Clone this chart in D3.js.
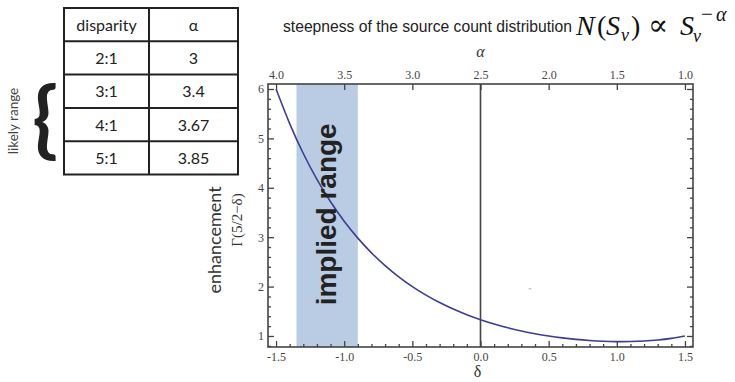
<!DOCTYPE html>
<html>
<head>
<meta charset="utf-8">
<script src="https://cdn.jsdelivr.net/npm/d3@7"></script>
<style>
  html, body { margin: 0; padding: 0; background: #fff; }
  svg { display: block; }
</style>
</head>
<body>
<svg id="chart" width="735" height="382"></svg>
<script>
// Enhancement factor Γ(5/2−δ) sampled across δ
const deltaValues = [-1.5,-1.4,-1.3,-1.2,-1.1,-1.0,-0.9,-0.8,-0.7,-0.6,-0.5,-0.4,-0.3,-0.2,-0.1,0.0,
  0.1,0.2,0.3,0.4,0.5,0.6,0.7,0.8,0.9,1.0,1.1,1.2,1.3,1.4,1.5];
const enhancementValues = [6.0,5.2993,4.6942,4.1707,3.7170,3.3234,2.9812,2.6834,2.4240,2.1976,2.0,
  1.8274,1.6765,1.5447,1.4296,1.3293,1.2422,1.1667,1.1018,1.0465,1.0,0.9618,0.9314,0.9086,0.8935,
  0.8862,0.8873,0.8975,0.9182,0.9514,1.0];

// Disparity table
const disparities = ["2:1", "3:1", "4:1", "5:1"];
const alphaValues = ["3", "3.4", "3.67", "3.85"];

// Implied α range (from the likely disparities 3:1 … 5:1)
const impliedAlpha = [3.4, 3.85];

// Axis ticks
const deltaMajorTicks = [-1.5, -1.0, -0.5, 0.0, 0.5, 1.0, 1.5];
const deltaTickLabels = ["-1.5", "-1.0", "-0.5", "0.0", "0.5", "1.0", "1.5"];
const alphaTicks = [4.0, 3.5, 3.0, 2.5, 2.0, 1.5, 1.0];
const alphaTickLabels = ["4.0", "3.5", "3.0", "2.5", "2.0", "1.5", "1.0"];
const yMajorTicks = [1, 2, 3, 4, 5, 6];

const svg = d3.select("#chart");

// ---- plot geometry ----
const frame = { left: 268, right: 693, top: 84, bottom: 347 };
const x = d3.scaleLinear().domain([-1.559, 1.559]).range([frame.left, frame.right]);
// α = 5/2 − δ, so the top axis is the same scale, reversed
const xa = d3.scaleLinear().domain([2.5 + 1.559, 2.5 - 1.559]).range([frame.left, frame.right]);
const y = d3.scaleLinear().domain([0.777, 6.101]).range([frame.bottom, frame.top]);

const serif = "'Liberation Serif', 'DejaVu Serif', serif";
const sans = "'Liberation Sans', Arial, sans-serif";
const humanist = "Lato, 'Open Sans', sans-serif";
const axisColor = "#444";

// implied range band
svg.append("rect")
  .attr("x", xa(impliedAlpha[1]))
  .attr("y", frame.top)
  .attr("width", xa(impliedAlpha[0]) - xa(impliedAlpha[1]))
  .attr("height", frame.bottom - frame.top)
  .attr("fill", "#b9cce3");

// vertical line at δ = 0
svg.append("line")
  .attr("x1", x(0)).attr("x2", x(0))
  .attr("y1", frame.top).attr("y2", frame.bottom)
  .attr("stroke", "#444").attr("stroke-width", 1.6);

// curve
const line = d3.line()
  .x((d, i) => x(deltaValues[i]))
  .y(d => y(d))
  .curve(d3.curveNatural);
svg.append("path")
  .attr("d", line(enhancementValues))
  .attr("fill", "none")
  .attr("stroke", "#3d3d95")
  .attr("stroke-width", 1.6);

// "implied range" label inside the band
const bandMid = (xa(impliedAlpha[0]) + xa(impliedAlpha[1])) / 2;
svg.append("text")
  .attr("transform", `translate(${bandMid + 9},${y(1.62)}) rotate(-90)`)
  .attr("font-family", sans)
  .attr("font-weight", "bold")
  .attr("font-size", 28)
  .attr("fill", "#222")
  .text("implied range");

// ---- axes ----
const bottomAxis = d3.axisBottom(x)
  .tickValues(deltaMajorTicks)
  .tickFormat((d, i) => deltaTickLabels[i])
  .tickSizeInner(-6).tickSizeOuter(0).tickPadding(5);
const gB = svg.append("g").attr("transform", `translate(0,${frame.bottom})`).call(bottomAxis);

const bottomMinor = d3.axisBottom(x)
  .tickValues(d3.range(-15, 16).filter(v => v % 5 !== 0).map(v => v / 10))
  .tickFormat("").tickSizeInner(-3).tickSizeOuter(0);
const gBm = svg.append("g").attr("transform", `translate(0,${frame.bottom})`).call(bottomMinor);

const topAxis = d3.axisTop(xa)
  .tickValues(alphaTicks)
  .tickFormat((d, i) => alphaTickLabels[i])
  .tickSizeInner(-6).tickSizeOuter(0).tickPadding(5);
const gT = svg.append("g").attr("transform", `translate(0,${frame.top})`).call(topAxis);

const leftAxis = d3.axisLeft(y)
  .tickValues(yMajorTicks)
  .tickFormat(d3.format("d"))
  .tickSizeInner(-6).tickSizeOuter(0).tickPadding(4);
const gL = svg.append("g").attr("transform", `translate(${frame.left},0)`).call(leftAxis);

const yMinor = d3.range(8, 61, 2).filter(v => v % 10 !== 0).map(v => v / 10);
const gLm = svg.append("g").attr("transform", `translate(${frame.left},0)`)
  .call(d3.axisLeft(y).tickValues(yMinor).tickFormat("").tickSizeInner(-3).tickSizeOuter(0));

const gR = svg.append("g").attr("transform", `translate(${frame.right},0)`)
  .call(d3.axisRight(y).tickValues(yMajorTicks).tickFormat("").tickSizeInner(-6).tickSizeOuter(0));
const gRm = svg.append("g").attr("transform", `translate(${frame.right},0)`)
  .call(d3.axisRight(y).tickValues(yMinor).tickFormat("").tickSizeInner(-3).tickSizeOuter(0));

[gB, gBm, gT, gL, gLm, gR, gRm].forEach(g => {
  g.select(".domain").remove();
  g.selectAll(".tick line").attr("stroke", axisColor).attr("stroke-width", 1.3);
  g.selectAll(".tick text")
    .attr("font-family", serif).attr("font-size", 12).attr("fill", "#444");
});

// frame
svg.append("rect")
  .attr("x", frame.left).attr("y", frame.top)
  .attr("width", frame.right - frame.left).attr("height", frame.bottom - frame.top)
  .attr("fill", "none").attr("stroke", axisColor).attr("stroke-width", 1.6);

// axis titles
svg.append("text")
  .attr("x", x(0) - 3).attr("y", 377)
  .attr("text-anchor", "middle")
  .attr("font-family", serif).attr("font-size", 16).attr("fill", "#333")
  .text("δ");

svg.append("text")
  .attr("x", x(0)).attr("y", 57)
  .attr("text-anchor", "middle")
  .attr("font-family", serif).attr("font-style", "italic").attr("font-size", 16).attr("fill", "#333")
  .text("α");

svg.append("text")
  .attr("transform", `translate(242,220) rotate(-90)`)
  .attr("text-anchor", "middle")
  .attr("font-family", serif).attr("font-size", 15).attr("fill", "#333")
  .text("Γ(5/2−δ)");

svg.append("text")
  .attr("transform", `translate(221,240) rotate(-90)`)
  .attr("text-anchor", "middle")
  .attr("font-family", humanist).attr("font-size", 18).attr("fill", "#333")
  .text("enhancement");

// title with the source-count law N(Sν) ∝ Sν^−α
svg.append("text")
  .attr("x", 283).attr("y", 32)
  .attr("textLength", 289).attr("lengthAdjust", "spacingAndGlyphs")
  .attr("font-family", sans).attr("font-size", 15.8).attr("fill", "#222")
  .text("steepness of the source count distribution");

const math = svg.append("text")
  .attr("font-family", serif).attr("font-size", 28).attr("fill", "#111");
const mathParts = [
  { t: "N", x: 576, y: 35, it: true },
  { t: "(", x: 597, y: 35 },
  { t: "S", x: 606, y: 35, it: true },
  { t: "ν", x: 621, y: 41, it: true, s: 18 },
  { t: ")", x: 631, y: 35 },
  { t: "∝", x: 648, y: 35, f: "'DejaVu Serif', serif", s: 30 },
  { t: "S", x: 680, y: 35, it: true },
  { t: "ν", x: 693, y: 42, it: true, s: 18 },
  { t: "−", x: 701, y: 21, s: 21 },
  { t: "α", x: 716, y: 21, it: true, s: 20 }
];
mathParts.forEach(p => {
  const ts = math.append("tspan").attr("x", p.x).attr("y", p.y).text(p.t);
  if (p.it) ts.attr("font-style", "italic");
  if (p.s) ts.attr("font-size", p.s);
  if (p.f) ts.attr("font-family", p.f);
});

// stray mark in the plot area
svg.append("text")
  .attr("x", 530).attr("y", 293)
  .attr("text-anchor", "middle")
  .attr("font-family", sans).attr("font-size", 8).attr("fill", "#999")
  .text("\"");

// ---- disparity table ----
const table = { left: 64, mid: 149, right: 238, top: 8, rowH: 33.3 };
const rows = [["disparity", "α"]].concat(disparities.map((d, i) => [d, alphaValues[i]]));
const tg = svg.append("g");
const nRows = rows.length;
const rowY = d3.scaleLinear().domain([0, nRows]).range([table.top, table.top + table.rowH * nRows]);

tg.append("rect")
  .attr("x", table.left).attr("y", rowY(0))
  .attr("width", table.right - table.left).attr("height", rowY(nRows) - rowY(0))
  .attr("fill", "none").attr("stroke", "#222").attr("stroke-width", 2);
tg.append("line")
  .attr("x1", table.mid).attr("x2", table.mid)
  .attr("y1", rowY(0)).attr("y2", rowY(nRows))
  .attr("stroke", "#222").attr("stroke-width", 2);
tg.selectAll("line.row").data(d3.range(1, nRows)).join("line")
  .attr("class", "row")
  .attr("x1", table.left).attr("x2", table.right)
  .attr("y1", d => rowY(d)).attr("y2", d => rowY(d))
  .attr("stroke", "#222").attr("stroke-width", 2);

rows.forEach((r, i) => {
  const cy = (rowY(i) + rowY(i + 1)) / 2 + 6;
  tg.append("text")
    .attr("x", (table.left + table.mid) / 2).attr("y", cy)
    .attr("text-anchor", "middle")
    .attr("font-family", humanist).attr("font-size", 16).attr("fill", "#222")
    .text(r[0]);
  tg.append("text")
    .attr("x", (table.mid + table.right) / 2).attr("y", cy)
    .attr("text-anchor", "middle")
    .attr("font-family", humanist).attr("font-size", 16).attr("fill", "#222")
    .text(r[1]);
});

// brace and "likely range" note beside rows 3:1 … 5:1
const braceTop = rowY(2) + 10, braceBot = rowY(5) - 16;
svg.append("text")
  .attr("x", 45).attr("y", (braceTop + braceBot) / 2 + 26)
  .attr("text-anchor", "middle")
  .attr("font-family", humanist).attr("font-weight", "bold").attr("font-size", 84).attr("fill", "#222")
  .text("{");
svg.append("text")
  .attr("transform", `translate(18,121) rotate(-90)`)
  .attr("text-anchor", "middle")
  .attr("font-family", humanist).attr("font-size", 13.5).attr("fill", "#444")
  .text("likely range");
</script>
</body>
</html>
